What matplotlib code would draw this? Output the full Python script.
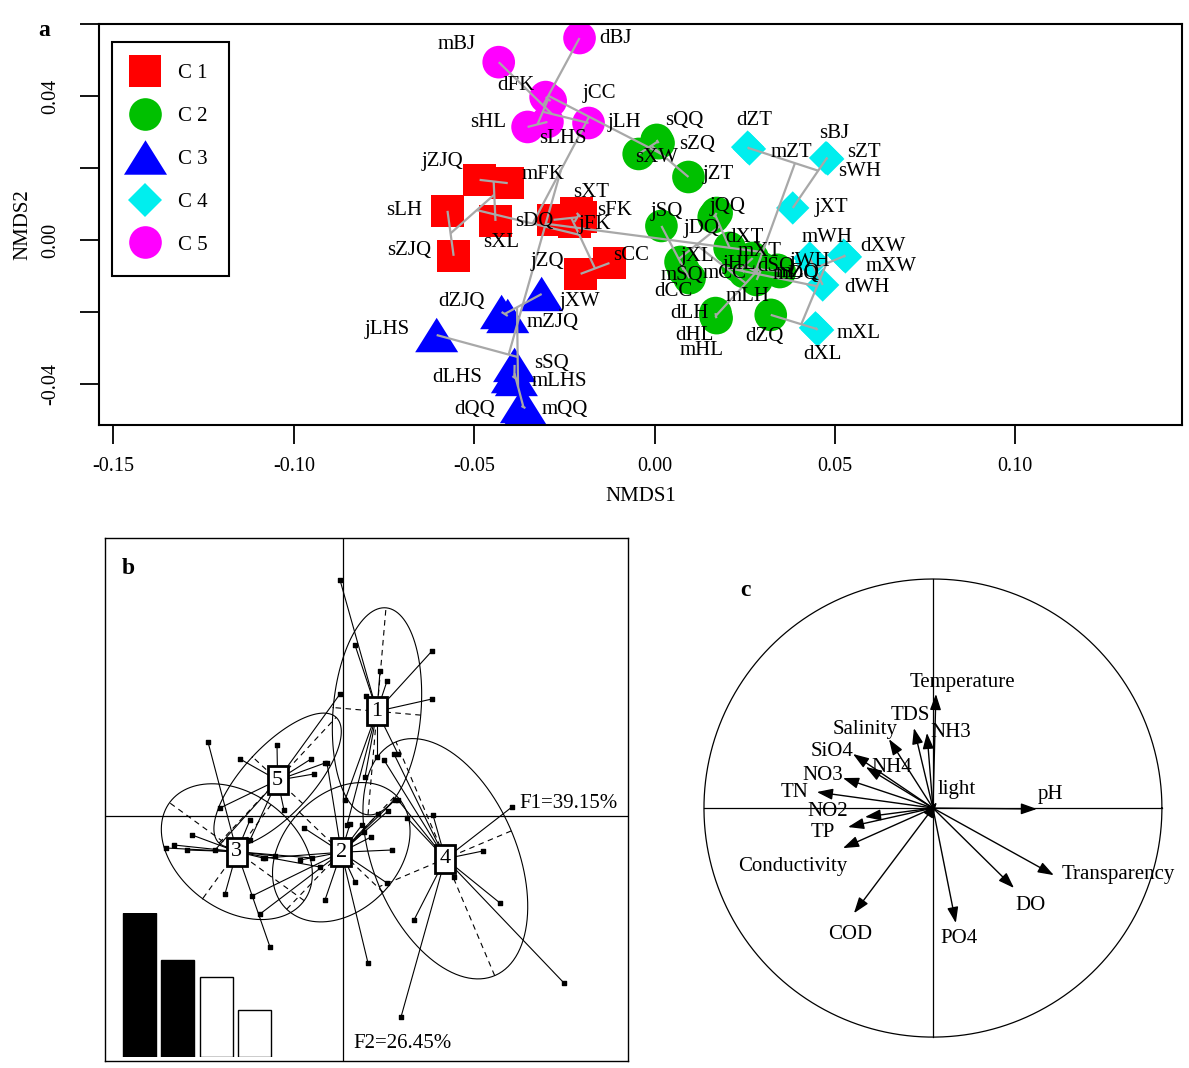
import numpy as np
import matplotlib
matplotlib.use("Agg")
import matplotlib.pyplot as plt
from matplotlib.lines import Line2D
from matplotlib.collections import LineCollection

plt.rcParams['font.family'] = ['Liberation Serif', 'DejaVu Serif']
plt.rcParams['axes.unicode_minus'] = False

# ---------------- panel a : NMDS ----------------
samples = ["mBJ", "dBJ", "dFK", "jCC", "sHL", "sLHS", "jLH",
           "jZJQ", "mFK", "sLH", "sXL", "sZJQ", "sDQ", "sXT", "sFK", "jFK", "jZQ", "sCC",
           "dZJQ", "mZJQ", "jXW", "jLHS", "sSQ", "dLHS", "mLHS", "dQQ", "mQQ",
           "sQQ", "sZQ", "sXW", "jZT", "jSQ", "jQQ", "jDQ", "dXT", "jXL", "mXT", "jHL", "dSQ",
           "mSQ", "mCC", "dCC", "mLH", "dLH", "dHL", "mHL", "dZQ", "mDQ", "mZQ",
           "dZT", "mZT", "sBJ", "sZT", "sWH", "jXT", "mWH", "jWH", "dXW", "mXW", "dWH", "mXL", "dXL"]
cluster = [5]*7 + [1]*11 + [3]*9 + [2]*22 + [4]*13
nmds1 = [-0.0432, -0.0208, -0.0302, -0.0288, -0.0352, -0.0297, -0.0183,
         -0.0485, -0.0407, -0.0574, -0.0441, -0.0557, -0.0280, -0.0216, -0.0205, -0.0222, -0.0205, -0.0125,
         -0.0424, -0.0407, -0.0313, -0.0604, -0.0388, -0.0394, -0.0383, -0.0369, -0.0358,
         0.0006, 0.0011, -0.0044, 0.0094, 0.0019, 0.0172, 0.0164, 0.0208, 0.0072, 0.0272, 0.0230, 0.0297,
         0.0080, 0.0249, 0.0097, 0.0283, 0.0169, 0.0169, 0.0172, 0.0322, 0.0341, 0.0347,
         0.0258, 0.0263, 0.0474, 0.0477, 0.0480, 0.0383, 0.0430, 0.0435, 0.0524, 0.0529, 0.0466, 0.0446, 0.0452]
nmds2 = [0.0494, 0.0561, 0.0397, 0.0386, 0.0314, 0.0328, 0.0325,
         0.0167, 0.0158, 0.0081, 0.0053, -0.0044, 0.0056, 0.0075, 0.0064, 0.0050, -0.0094, -0.0064,
         -0.0200, -0.0211, -0.0150, -0.0264, -0.0347, -0.0378, -0.0386, -0.0461, -0.0467,
         0.0278, 0.0269, 0.0239, 0.0175, 0.0039, 0.0075, 0.0064, -0.0022, -0.0061, -0.0050, -0.0072, -0.0078,
         -0.0083, -0.0089, -0.0106, -0.0111, -0.0203, -0.0211, -0.0217, -0.0208, -0.0083, -0.0089,
         0.0258, 0.0253, 0.0228, 0.0228, 0.0225, 0.0089, -0.0050, -0.0061, -0.0042, -0.0047, -0.0125, -0.0244, -0.0250]
label1 = [-0.0549, -0.0108, -0.0385, -0.0152, -0.0460, -0.0255, -0.0083,
          -0.0588, -0.0310, -0.0693, -0.0424, -0.0679, -0.0333, -0.0175, -0.0111, -0.0166, -0.0297, -0.0064,
          -0.0535, -0.0283, -0.0208, -0.0740, -0.0286, -0.0546, -0.0263, -0.0499, -0.0249,
          0.0083, 0.0119, 0.0006, 0.0177, 0.0033, 0.0202, 0.0130, 0.0249, 0.0119, 0.0291, 0.0236, 0.0335,
          0.0075, 0.0194, 0.0053, 0.0258, 0.0097, 0.0111, 0.0130, 0.0305, 0.0391, 0.0396,
          0.0277, 0.0380, 0.0499, 0.0579, 0.0568, 0.0491, 0.0477, 0.0430, 0.0632, 0.0657, 0.0590, 0.0565, 0.0466]
label2 = [0.0542, 0.0561, 0.0428, 0.0408, 0.0325, 0.0281, 0.0325,
          0.0217, 0.0181, 0.0081, -0.0006, -0.0028, 0.0050, 0.0131, 0.0081, 0.0042, -0.0061, -0.0042,
          -0.0172, -0.0228, -0.0172, -0.0250, -0.0342, -0.0383, -0.0394, -0.0472, -0.0472,
          0.0333, 0.0264, 0.0228, 0.0181, 0.0078, 0.0092, 0.0033, 0.0008, -0.0047, -0.0033, -0.0067, -0.0075,
          -0.0100, -0.0092, -0.0144, -0.0156, -0.0203, -0.0264, -0.0306, -0.0269, -0.0097, -0.0089,
          0.0331, 0.0244, 0.0297, 0.0242, 0.0189, 0.0089, 0.0008, -0.0061, -0.0017, -0.0075, -0.0133, -0.0261, -0.0319]
legend_labels = ["C 1", "C 2", "C 3", "C 4", "C 5"]
x_ticks_a = [-0.15, -0.10, -0.05, 0.00, 0.05, 0.10]
y_ticks_a = [-0.04, -0.02, 0.00, 0.02, 0.04, 0.06]
y_ticklabels_a = ["-0.04", "", "0.00", "", "0.04", ""]

# ---------------- panel b : class scatter ----------------
b_group = [1]*12 + [2]*18 + [3]*12 + [4]*12 + [5]*10
b_x = [-0.03, 0.12, 0.37, 0.44, 0.89, 0.89, 0.23, 0.55, 0.34, 0.22, 0.04, 0.02,
       -0.39, -0.18, -0.91, -0.83, 0.12, 0.25, 0.49, 0.28, 0.21, 0.35, 0.45, 0.52,
       0.07, 0.19, 0.44, -0.16, -0.43, -0.78,
       -1.77, -1.69, -1.56, -1.51, -1.18, -0.73, -0.80, -0.68, -1.35, -0.93, -0.31, -0.23,
       1.69, 1.40, 1.57, 2.21, 1.11, 0.71, 0.58, 0.90, 0.51, 0.41, 0.55, 0.64,
       -0.66, -1.03, -1.23, -0.32, -0.29, -0.18, -0.03, -0.59, -1.28, -0.93]
b_y = [2.36, 1.71, 1.45, 1.35, 1.65, 1.17, 1.20, 0.62, 0.59, 0.39, -0.09, 0.16,
       -0.12, -0.84, -0.80, -0.98, -0.66, -1.47, -0.34, -0.21, -0.16, 0.02, 0.05, 0.16,
       -0.08, -0.09, -0.67, 0.53, -0.44, -0.42,
       -0.32, -0.29, -0.34, -0.19, -0.78, -1.31, -0.42, -0.40, 0.74, -0.04, -0.42, -0.51,
       0.09, -0.35, -0.87, -1.67, -0.61, -1.04, -2.01, 0.01, 0.62, 0.56, 0.16, -0.02,
       0.71, 0.57, 0.08, 0.57, 0.42, 0.53, 1.22, 0.06, -0.34, -0.24]
eigen_pct = [39.15, 26.45, 21.75, 12.65]

# ---------------- panel c : correlation circle ----------------
env_vars = ["Temperature", "TDS", "NH3", "Salinity", "SiO4", "NH4", "NO3", "TN", "NO2", "TP",
            "Conductivity", "COD", "PO4", "DO", "Transparency", "pH", "light"]
env_x = [0.013, -0.083, -0.026, -0.192, -0.349, -0.293, -0.393, -0.507, -0.297, -0.371,
         -0.393, -0.345, 0.100, 0.354, 0.528, 0.454, 0.017]
env_y = [0.498, 0.349, 0.328, 0.301, 0.236, 0.179, 0.131, 0.070, -0.039, -0.083,
         -0.175, -0.459, -0.502, -0.349, -0.293, -0.004, 0.026]
env_lab_x = [0.131, -0.100, 0.079, -0.297, -0.441, -0.179, -0.480, -0.603, -0.459, -0.480,
             -0.611, -0.362, 0.114, 0.424, 0.808, 0.515, 0.105]
env_lab_y = [0.550, 0.406, 0.328, 0.341, 0.245, 0.179, 0.144, 0.070, -0.013, -0.105,
             -0.253, -0.550, -0.568, -0.424, -0.288, 0.057, 0.083]

# =============================================================
W, H = 1189, 1068
fig = plt.figure(figsize=(W/100, H/100), dpi=100)

def fx(px):
    return px / W

def fy(py):
    return 1 - py / H

# ---------- panel a ----------
axa = fig.add_axes([fx(99), fy(425), fx(1182) - fx(99), fy(24) - fy(425)])
colors = {1: "#FF0000", 2: "#00C000", 3: "#0000FF", 4: "#00EEEE", 5: "#FF00FF"}
tri = [(-1, -0.8), (1, -0.8), (0, 0.8)]
markers = {1: ("s", 23.5), 2: ("o", 23.5), 3: (tri, 31), 4: ("D", 17), 5: ("o", 23.5)}

X1 = np.array(nmds1)
X2 = np.array(nmds2)
cl = np.array(cluster)
for k in [1, 2, 3, 4, 5]:
    m = cl == k
    mk, ms = markers[k]
    axa.scatter(X1[m], X2[m], marker=mk, s=ms**2, c=colors[k], edgecolors="none", zorder=2)

# ordicluster-like tree (average linkage) drawn through group centres
P = np.column_stack([X1, X2])
D = np.sqrt(((P[:, None, :] - P[None, :, :])**2).sum(-1))
members = {i: [i] for i in range(len(P))}
centre = {i: P[i].copy() for i in range(len(P))}
segs = []
while len(members) > 1:
    keys = list(members)
    best = (np.inf, None, None)
    for i, a in enumerate(keys):
        for b in keys[i+1:]:
            d = D[np.ix_(members[a], members[b])].mean()
            if d < best[0]:
                best = (d, a, b)
    _, a, b = best
    segs.append([tuple(centre[a]), tuple(centre[b])])
    na, nb = len(members[a]), len(members[b])
    centre[a] = (na*centre[a] + nb*centre[b]) / (na + nb)
    members[a] = members[a] + members.pop(b)
    centre.pop(b)
axa.add_collection(LineCollection(segs, colors="#A8A8A8", linewidths=1.6, zorder=3))

for s, lx, ly in zip(samples, label1, label2):
    axa.text(lx, ly, s, ha="center", va="center", fontsize=15, zorder=4)

axa.set_xlim(-0.1540, 0.1462)
axa.set_ylim(-0.05139, 0.0600)
axa.set_xticks(x_ticks_a)
axa.set_xticklabels(["%.2f" % v for v in x_ticks_a])
axa.set_yticks(y_ticks_a)
axa.set_yticklabels(y_ticklabels_a, rotation=90, va="center")
axa.tick_params(direction="out", length=14, width=1.3, labelsize=14.5)
axa.tick_params(axis="x", pad=9)
axa.tick_params(axis="y", pad=14)
for sp in axa.spines.values():
    sp.set_linewidth(1.5)
axa.set_xlabel("NMDS1", fontsize=15, labelpad=8)
axa.set_ylabel("NMDS2", fontsize=15, labelpad=6)

handles = []
for k in [1, 2, 3, 4, 5]:
    mk, ms = markers[k]
    handles.append(Line2D([], [], ls="", marker=mk, markersize=ms, color=colors[k],
                          markeredgewidth=0))
leg = axa.legend(handles, legend_labels, loc="upper left", bbox_to_anchor=(0.012, 0.955),
                 borderaxespad=0, fontsize=15, frameon=True, fancybox=False,
                 edgecolor="black", framealpha=1, handlelength=1.15, handletextpad=1.0,
                 labelspacing=1.12, borderpad=1.03)
leg.get_frame().set_linewidth(1.5)
fig.text(fx(44), fy(30), "a", fontsize=17, fontweight="bold", ha="center", va="center")

# ---------- panel b ----------
axb = fig.add_axes([fx(105), fy(1061), fx(628) - fx(105), fy(538) - fy(1061)])
axb.set_xlim(-2.38, 2.85)
axb.set_ylim(-2.45, 2.78)
axb.set_xticks([])
axb.set_yticks([])
for sp in axb.spines.values():
    sp.set_linewidth(1.0)
axb.axhline(0, color="black", lw=0.9, zorder=1)
axb.axvline(0, color="black", lw=0.9, zorder=1)
bx = np.array(b_x)
by = np.array(b_y)
bg = np.array(b_group)
t = np.linspace(0, 2*np.pi, 120)
cents = {}
for k in [1, 2, 3, 4, 5]:
    m = bg == k
    pts = np.column_stack([bx[m], by[m]])
    c = pts.mean(0)
    cents[k] = c
    for p in pts:
        axb.plot([c[0], p[0]], [c[1], p[1]], color="black", lw=0.8, zorder=2)
    cov = np.cov(pts.T, bias=True)
    vals, vecs = np.linalg.eigh(cov)
    r = 1.5*np.sqrt(vals)
    ell = c + np.outer(np.cos(t), r[0]*vecs[:, 0]) + np.outer(np.sin(t), r[1]*vecs[:, 1])
    axb.plot(ell[:, 0], ell[:, 1], color="black", lw=0.8, zorder=2)
    for j in range(2):
        e = r[j]*vecs[:, j]
        axb.plot([c[0]-e[0], c[0]+e[0]], [c[1]-e[1], c[1]+e[1]], color="black",
                 lw=0.8, ls=(0, (5, 4)), zorder=2)
axb.scatter(bx, by, marker="s", s=5, c="black", zorder=3)
for k, c in cents.items():
    axb.text(c[0], c[1], str(k), fontsize=16, ha="center", va="center", zorder=5,
             bbox=dict(boxstyle="square,pad=0.2", fc="white", ec="black", lw=2.0))
axb.text(2.25, 0.13, "F1=39.15%", fontsize=15, ha="center", va="center")
axb.text(0.59, -2.27, "F2=26.45%", fontsize=15, ha="center", va="center")
fig.text(fx(128), fy(568), "b", fontsize=17, fontweight="bold", ha="center", va="center")

axi = fig.add_axes([fx(120.3), fy(1057), fx(273.5) - fx(120.3), fy(913) - fy(1057)])
axi.bar(range(len(eigen_pct)), eigen_pct, width=0.86,
        color=["black", "black", "white", "white"], edgecolor="black", lw=1.0)
axi.set_xlim(-0.5, 3.5)
axi.set_ylim(0, eigen_pct[0])
axi.axis("off")

# ---------- panel c ----------
axc = fig.add_axes([fx(690), fy(1060), fx(1180) - fx(690), fy(560) - fy(1060)])
axc.set_xlim(-1.061, 1.079)
axc.set_ylim(-1.100, 1.083)
axc.axis("off")
tc = np.linspace(0, 2*np.pi, 400)
axc.plot(np.cos(tc), np.sin(tc), color="black", lw=0.9)
axc.plot([-1, 1], [0, 0], color="black", lw=0.9)
axc.plot([0, 0], [-1, 1], color="black", lw=0.9)
for name, x, y, lx, ly in zip(env_vars, env_x, env_y, env_lab_x, env_lab_y):
    axc.annotate("", xy=(x, y), xytext=(0, 0),
                 arrowprops=dict(arrowstyle="-|>,head_length=0.8,head_width=0.28",
                                 color="black", lw=1.0, shrinkA=0, shrinkB=0,
                                 mutation_scale=12))
    axc.text(lx, ly, name, fontsize=15, ha="center", va="center")
fig.text(fx(745), fy(590), "c", fontsize=17, fontweight="bold", ha="center", va="center")

fig.savefig("out.png", dpi=100)
